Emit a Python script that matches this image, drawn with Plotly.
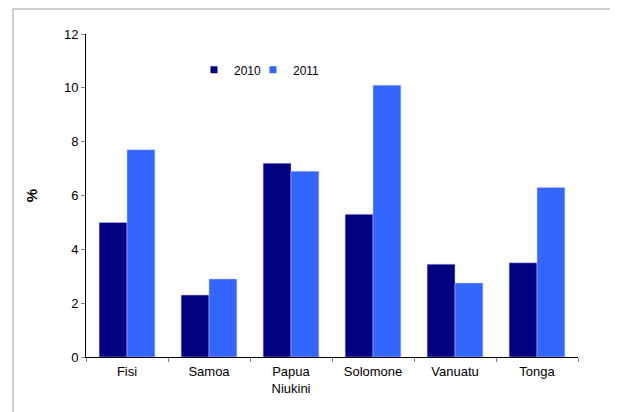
import plotly.graph_objects as go

categories = ["Fisi", "Samoa", "Papua<br>Niukini", "Solomone", "Vanuatu", "Tonga"]
values_2010 = [5.0, 2.3, 7.2, 5.3, 3.45, 3.5]
values_2011 = [7.7, 2.9, 6.9, 10.1, 2.75, 6.3]
y_ticks = [0, 2, 4, 6, 8, 10, 12]
series_names = ["2010", "2011"]
series_colors = ["#000080", "#3366FF"]

fig = go.Figure()
for name, vals, col in zip(series_names, [values_2010, values_2011], series_colors):
    fig.add_trace(go.Bar(x=categories, y=vals, name=name, showlegend=False,
                         marker=dict(color=col, line=dict(color="#c8c8ff", width=0.5))))
# legend entries with small square swatches, one legend box per series
for name, col, lg in zip(series_names, series_colors, ["legend", "legend2"]):
    fig.add_trace(go.Scatter(x=[None], y=[None], mode="markers", name=name, legend=lg,
                             marker=dict(symbol="square", size=7, color=col)))

# page is offset by the 8px body margin; plot area in screenshot: x 86..578, y 34..357
L, T = 78, 26
PW, PH = 492, 323
W, H = 618, 412
legend_style = dict(orientation="h", y=0.889, xanchor="left", yanchor="middle",
                    bgcolor="rgba(0,0,0,0)", font=dict(size=12))
fig.update_layout(
    width=W, height=H,
    margin=dict(l=L, r=W - L - PW, t=T, b=H - T - PH),
    paper_bgcolor="white", plot_bgcolor="white",
    font=dict(family="Liberation Sans, Arial, sans-serif", size=13, color="#000"),
    barmode="group", bargap=0.32, bargroupgap=0,
    showlegend=True,
    legend=dict(x=0.2195, **legend_style),
    legend2=dict(x=0.3394, **legend_style),
    xaxis=dict(showline=True, linecolor="#000", linewidth=1, ticks="outside",
               tickson="boundaries", ticklen=4, tickcolor="#888", showgrid=False,
               tickfont=dict(size=13), ticklabelstandoff=2),
    yaxis=dict(range=[0, 12], tickvals=y_ticks, showline=True, linecolor="#000", linewidth=1,
               ticks="outside", ticklen=4, tickcolor="#888", showgrid=False, zeroline=False,
               title=dict(text="<b>%</b>", font=dict(size=15), standoff=22),
               tickfont=dict(size=13)),
    shapes=[
        dict(type="rect", xref="paper", yref="paper",
             x0=(5 - L) / PW, x1=(603 - L) / PW, y0=-0.4, y1=(H - 1 - (H - T - PH)) / PH,
             line=dict(color="#a0a0a0", width=1), fillcolor="rgba(0,0,0,0)", layer="below"),
    ],
)

fig.write_html("out.html")
